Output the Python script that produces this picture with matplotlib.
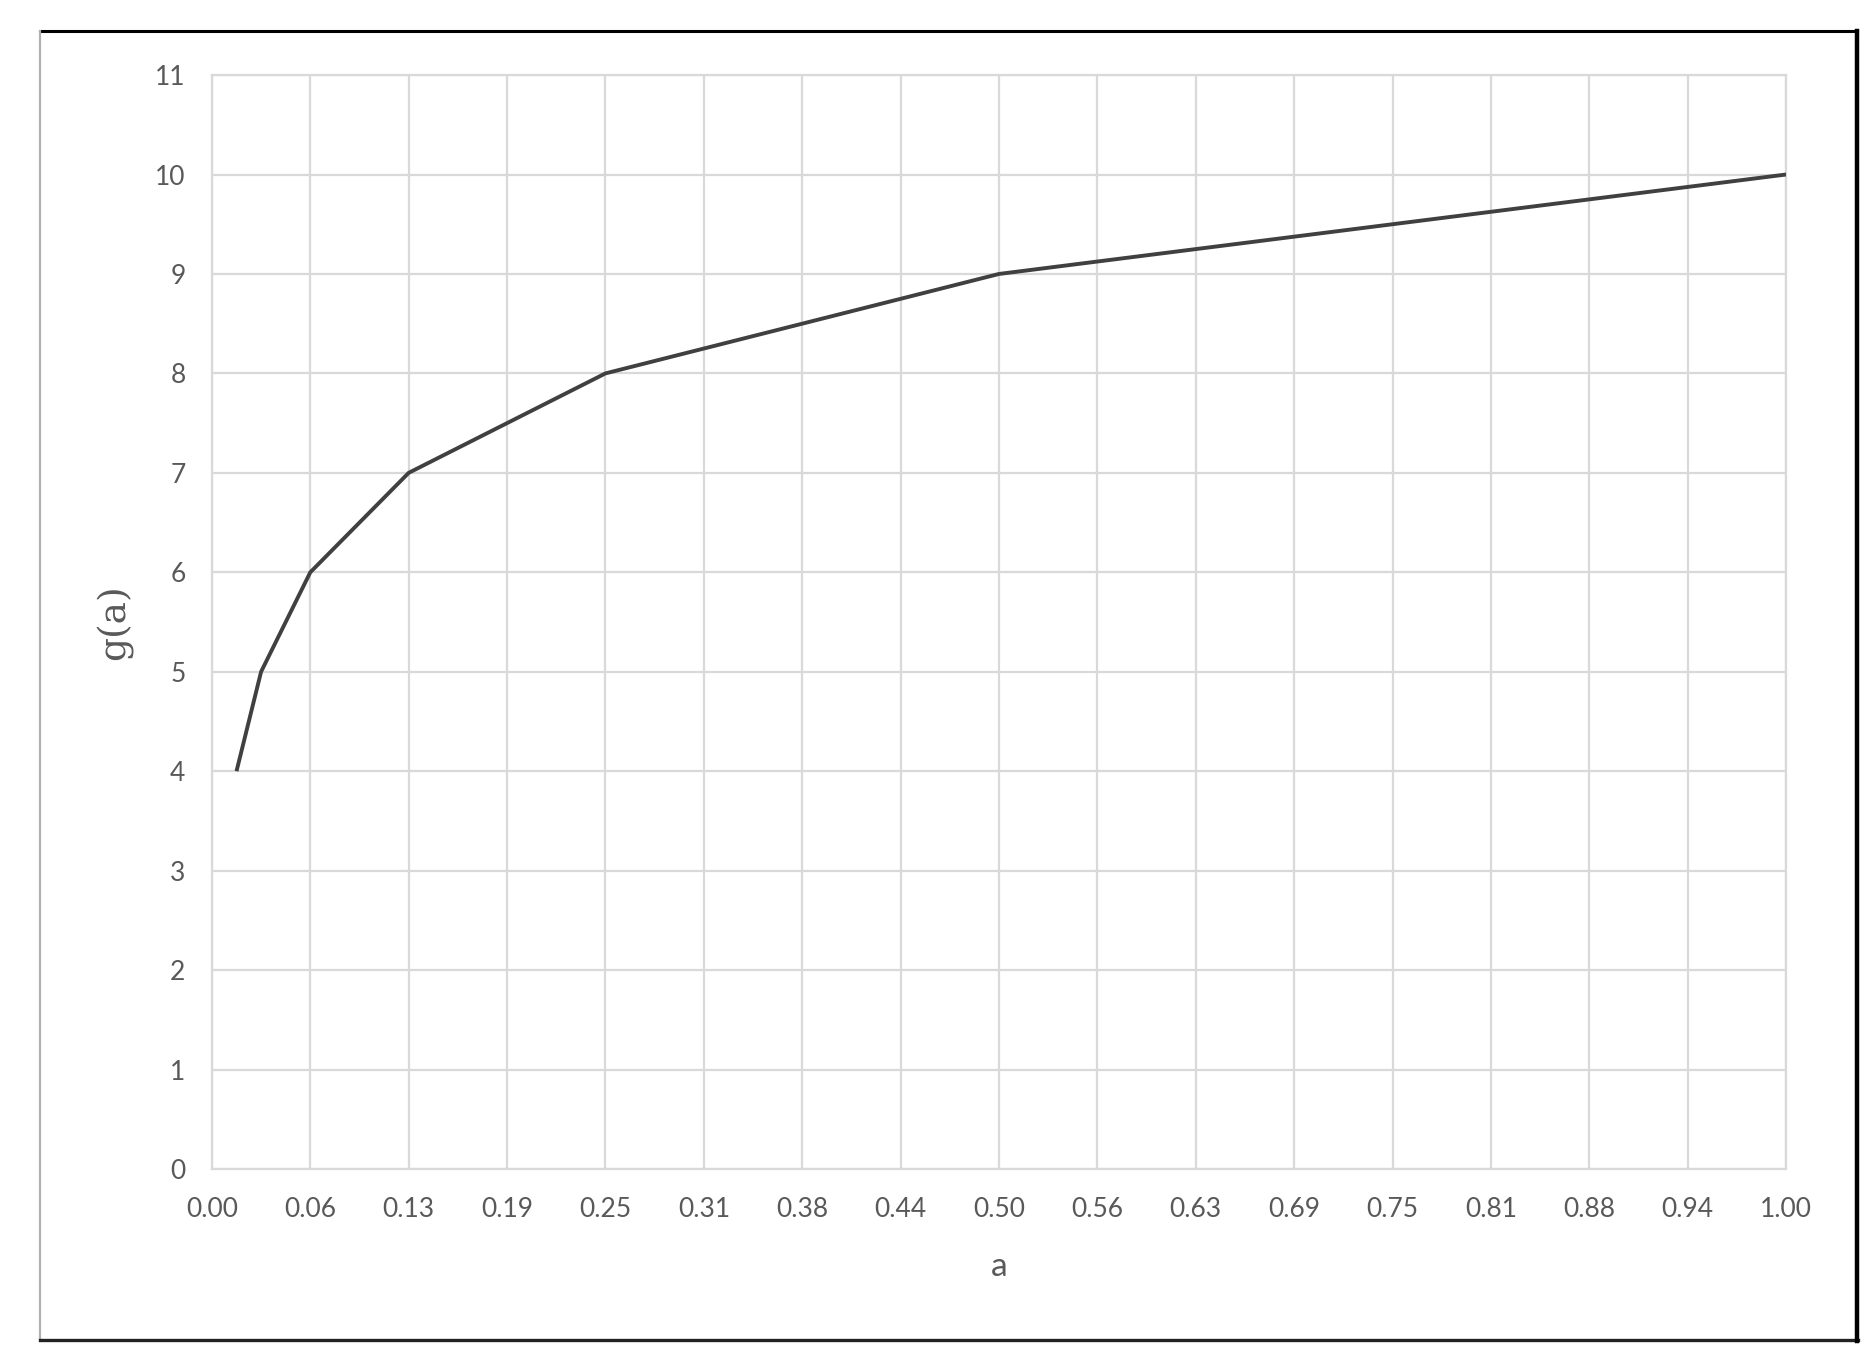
import matplotlib
matplotlib.use("Agg")
import matplotlib.pyplot as plt
from matplotlib.lines import Line2D

# data: g(a) = log2(a) + 10 sampled at powers of two
a_vals = [1/64, 1/32, 1/16, 1/8, 1/4, 1/2, 1.0]
g_vals = [4, 5, 6, 7, 8, 9, 10]

x_ticks = [i / 16 for i in range(17)]
x_labels = ["0.00", "0.06", "0.13", "0.19", "0.25", "0.31", "0.38", "0.44", "0.50",
            "0.56", "0.63", "0.69", "0.75", "0.81", "0.88", "0.94", "1.00"]
y_ticks = list(range(0, 12))

tick_color = "#595959"
grid_color = "#d9d9d9"

fig = plt.figure(figsize=(18.72, 13.55), dpi=100)
ax = fig.add_axes([0.1132, 0.1373, 0.8409, 0.8073])

ax.plot(a_vals, g_vals, color="#404040", lw=2.8, solid_capstyle="butt", zorder=3)

ax.set_xlim(0, 1)
ax.set_ylim(0, 11)
ax.set_xticks(x_ticks)
ax.set_xticklabels(x_labels)
ax.set_yticks(y_ticks)
ax.grid(True, color=grid_color, lw=1.6)
ax.set_axisbelow(True)
for s in ax.spines.values():
    s.set_color(grid_color)
    s.set_linewidth(1.6)
ax.tick_params(length=0, colors=tick_color, labelsize=19)
ax.tick_params(axis="x", pad=20)
ax.tick_params(axis="y", pad=19)
for lbl in ax.get_xticklabels() + ax.get_yticklabels():
    lbl.set_family(["Lato", "DejaVu Sans"])

ax.set_xlabel("a", fontsize=24, color=tick_color, family=["Lato", "DejaVu Sans"], labelpad=22)
ax.set_ylabel("g(a)", fontsize=27, color=tick_color, family=["DejaVu Serif"], labelpad=16)

# outer frame of the pasted chart
W, H = 1872, 1355
def fx(px):
    return px / W
def fy(py):
    return 1 - py / H
fig.add_artist(Line2D([fx(40), fx(1857)], [fy(31), fy(31)], color="black", lw=2.2))
fig.add_artist(Line2D([fx(40), fx(40)], [fy(31), fy(1340)], color="#b0b0b0", lw=1.6))
fig.add_artist(Line2D([fx(40), fx(1858)], [fy(1340), fy(1340)], color="#222222", lw=2.4))
fig.add_artist(Line2D([fx(1857), fx(1857)], [fy(31), fy(1341)], color="black", lw=3.2))

fig.savefig("out.png", dpi=100, facecolor="white")
